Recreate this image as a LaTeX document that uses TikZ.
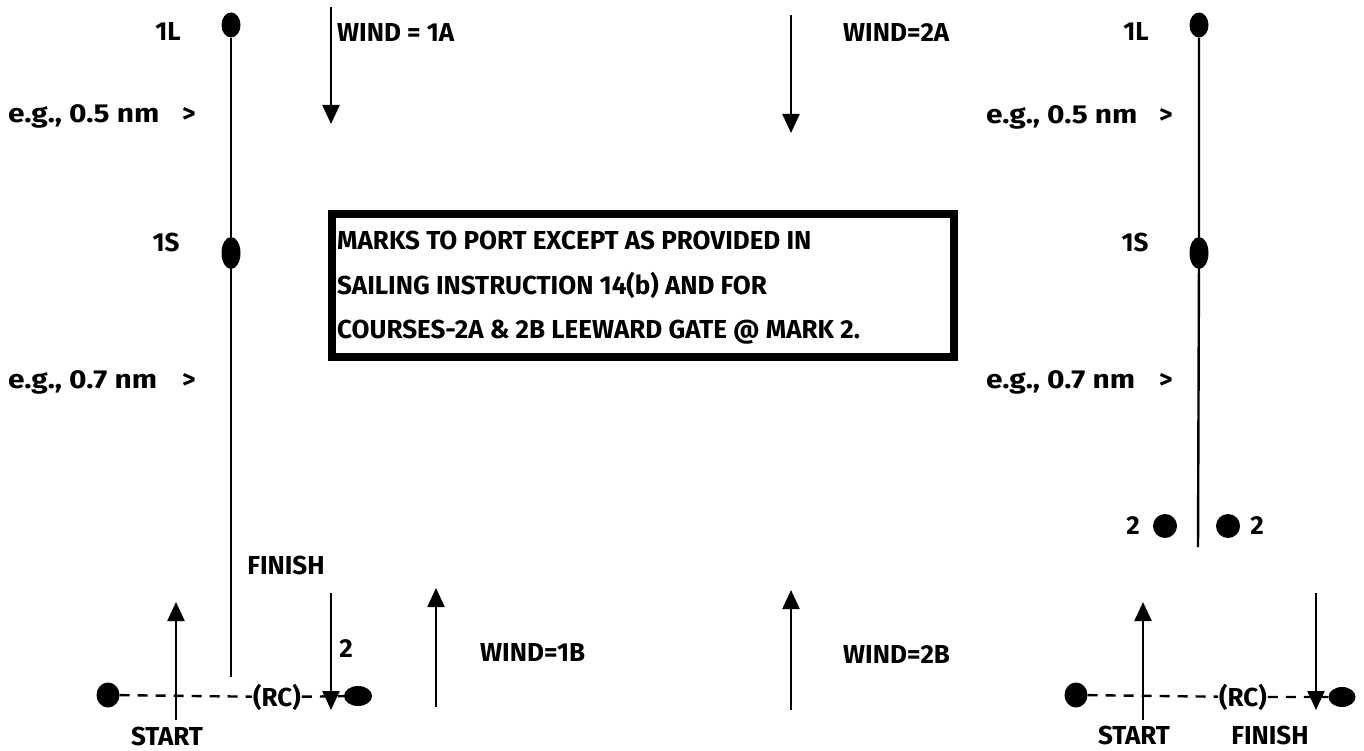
\documentclass[tikz,border=0pt]{standalone}
\usepackage{fontspec}
\setmainfont{Fira Sans}
\usetikzlibrary{arrows.meta,shapes.geometric}
\newcommand{\wideeg}[1]{\scalebox{1.15}[1]{#1}}
\tikzset{
  lbl/.style={inner sep=0pt, font=\fontsize{26}{30}\selectfont\bfseries},
  buoy/.style={ellipse, fill=black, inner sep=0pt},
  course/.style={line width=2.4pt},
  windarrow/.style={line width=2.4pt, -{Triangle[width=17pt,length=19pt]}},
  startline/.style={line width=2.4pt, dash pattern=on 10pt off 8pt},
  notebox/.style={draw, line width=8pt, inner sep=0pt},
}
\begin{document}
\begin{tikzpicture}[x=1pt,y=-1pt]
\useasboundingbox (0,0) rectangle (1364,751);

% ---------- left course ----------
\node[buoy, minimum width=19pt, minimum height=25pt] (aL) at (231,25) {};
\node[buoy, minimum width=19pt, minimum height=32pt] (aS) at (231,253) {};
\coordinate (aBot) at (231,677);
\draw[course] (aL) -- (aS) -- (aBot);
\node[lbl] (aLt) at (168,31) {1L};
\node[lbl] (aSt) at (166,242) {1S};
\node[lbl, anchor=base west] (aD1) at (8,123) {\makebox[174pt][l]{\wideeg{e.g., 0.5 nm}}>};
\node[lbl, anchor=base west] (aD2) at (8,388) {\makebox[174pt][l]{\wideeg{e.g., 0.7 nm}}>};

% wind 1A
\coordinate (w1aT) at (331,7);
\coordinate (w1aH) at (331,124);
\draw[windarrow] (w1aT) -- (w1aH);
\node[lbl, anchor=base west] (w1at) at (337,42) {WIND = 1A};

% wind 2A
\coordinate (w2aT) at (791,15);
\coordinate (w2aH) at (791,133);
\draw[windarrow] (w2aT) -- (w2aH);
\node[lbl, anchor=base west] (w2at) at (843,42) {WIND=2A};

% note box
\node[notebox, minimum width=622pt, minimum height=142pt] (box) at (643,285.5) {};
\node[lbl, anchor=base west] (n1) at (337,250) {MARKS TO PORT EXCEPT AS PROVIDED IN};
\node[lbl, anchor=base west] (n2) at (337,294) {SAILING INSTRUCTION 14(b) AND FOR};
\node[lbl, anchor=base west] (n3) at (337,338) {COURSES-2A \& 2B LEEWARD GATE @ MARK 2.};

% left start / finish line
\node[buoy, minimum width=23pt, minimum height=25pt] (sA) at (108,695) {};
\node[buoy, minimum width=28pt, minimum height=20pt] (fA) at (358,696) {};
\node[lbl, inner sep=1pt] (rcA) at (277,697) {(RC)};
\draw[startline] (sA) -- (rcA) -- (fA);
\coordinate (stAT) at (176,720);
\coordinate (stAH) at (176,602);
\draw[windarrow] (stAT) -- (stAH);
\node[lbl] (stAt) at (167,736) {START};
\coordinate (fiAT) at (331,593);
\coordinate (fiAH) at (331,710);
\draw[windarrow] (fiAT) -- (fiAH);
\node[lbl] (fiAt) at (286,565) {FINISH};
\node[lbl] (fiA2) at (346,649) {2};

% wind 1B
\coordinate (w1bT) at (436,707);
\coordinate (w1bH) at (436,588);
\draw[windarrow] (w1bT) -- (w1bH);
\node[lbl, anchor=west] (w1bt) at (480,652) {WIND=1B};

% wind 2B
\coordinate (w2bT) at (791,710);
\coordinate (w2bH) at (791,590);
\draw[windarrow] (w2bT) -- (w2bH);
\node[lbl, anchor=west] (w2bt) at (843,654) {WIND=2B};

% ---------- right course ----------
\node[buoy, minimum width=19pt, minimum height=25pt] (bL) at (1199,25) {};
\node[buoy, minimum width=19pt, minimum height=32pt] (bS) at (1199,253) {};
\coordinate (bBot) at (1198,547);
\draw[course] (bL) -- (bS) -- (bBot);
\node[lbl] (bLt) at (1136,31) {1L};
\node[lbl] (bSt) at (1135,242) {1S};
\node[lbl, anchor=base west] (bD1) at (986,124) {\makebox[173pt][l]{\wideeg{e.g., 0.5 nm}}>};
\node[lbl, anchor=base west] (bD2) at (986,388) {\makebox[173pt][l]{\wideeg{e.g., 0.7 nm}}>};

% leeward gate
\node[buoy, minimum width=24pt, minimum height=24pt] (g1) at (1165,526) {};
\node[buoy, minimum width=24pt, minimum height=24pt] (g2) at (1228,526) {};
\node[lbl] (g1t) at (1133,526) {2};
\node[lbl] (g2t) at (1257,526) {2};

% right start / finish line
\node[buoy, minimum width=23pt, minimum height=25pt] (sB) at (1076,695) {};
\node[buoy, minimum width=27pt, minimum height=20pt] (fB) at (1342,697) {};
\node[lbl, inner sep=1pt] (rcB) at (1243,697) {(RC)};
\draw[startline] (sB) -- (rcB) -- (fB);
\coordinate (stBT) at (1143,720);
\coordinate (stBH) at (1143,602);
\draw[windarrow] (stBT) -- (stBH);
\node[lbl] (stBt) at (1134,735) {START};
\coordinate (fiBT) at (1316,593);
\coordinate (fiBH) at (1316,710);
\draw[windarrow] (fiBT) -- (fiBH);
\node[lbl] (fiBt) at (1270,735) {FINISH};
\end{tikzpicture}
\end{document}
